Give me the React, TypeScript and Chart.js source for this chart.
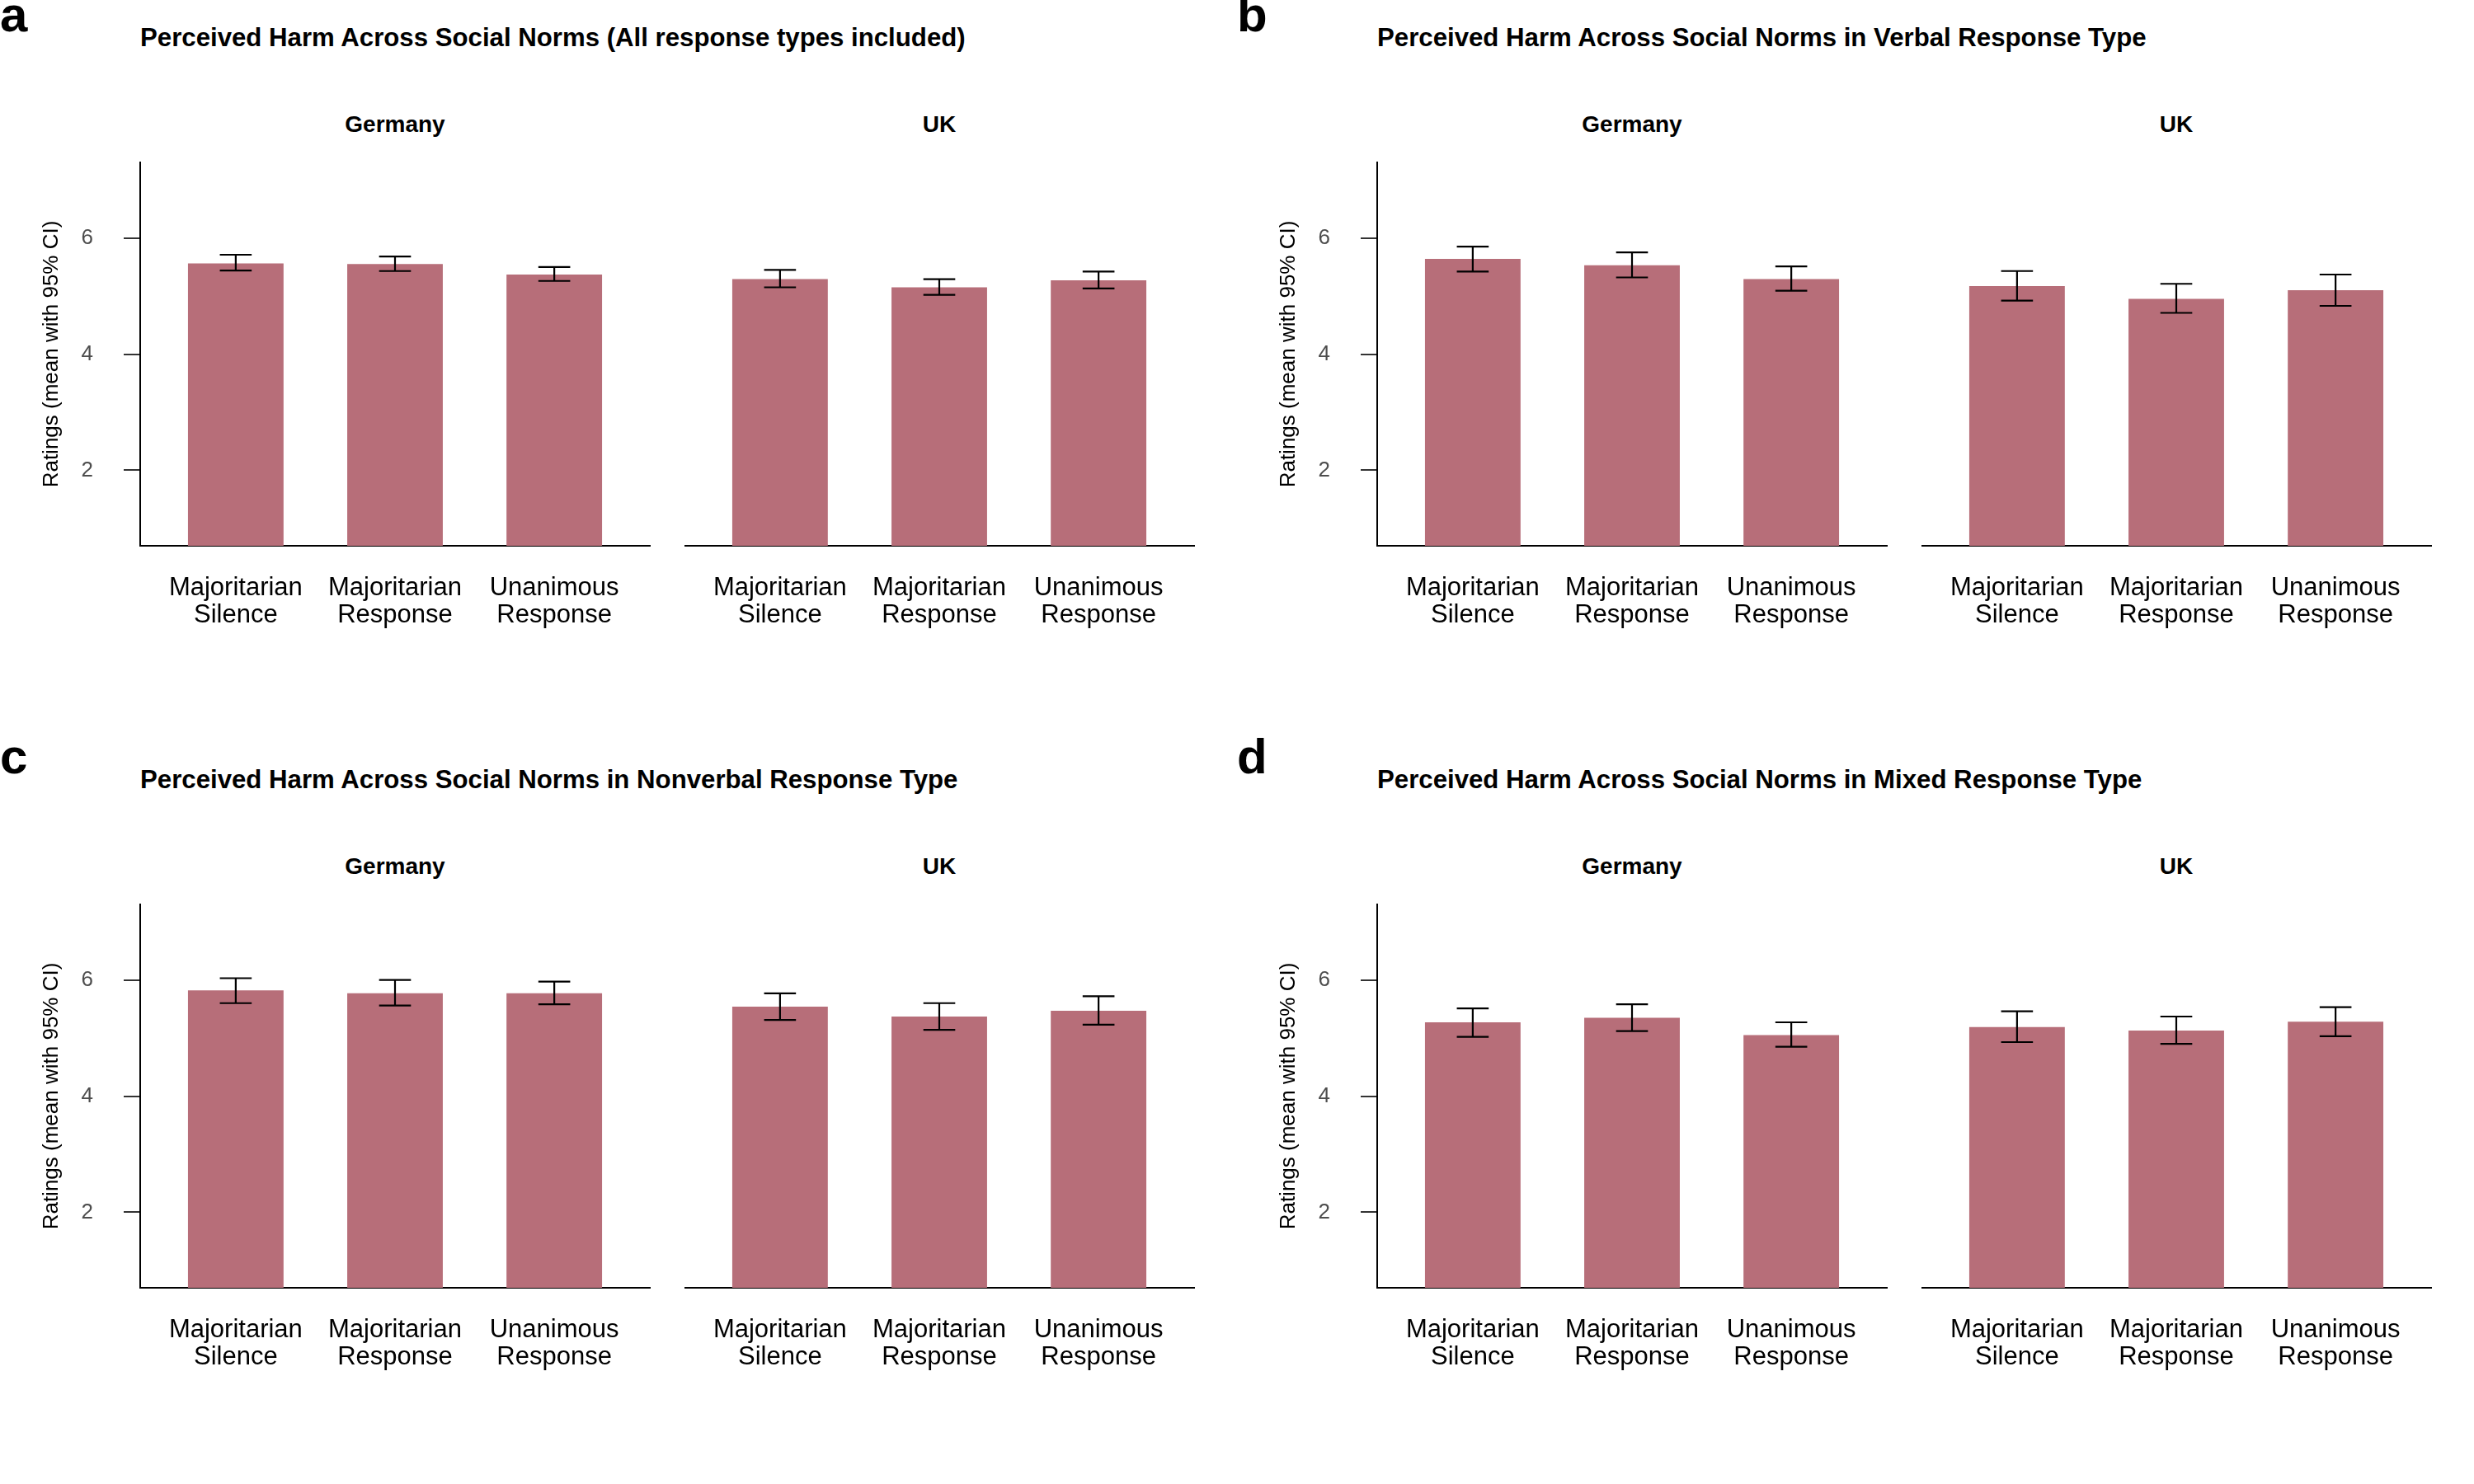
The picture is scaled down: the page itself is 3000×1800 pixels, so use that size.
import React, { useEffect, useRef } from "react";
import { Chart, registerables } from "chart.js";

Chart.register(...registerables);

// ---------- data ----------
const CATEGORY_LABELS: string[][] = [
  ["Majoritarian", "Silence"],
  ["Majoritarian", "Response"],
  ["Unanimous", "Response"],
];
const CATEGORY_POSITIONS = [1, 2, 3];
const COUNTRIES = ["Germany", "UK"];
const Y_TICKS = [2, 4, 6];
const Y_MIN = 0.7;
const Y_MAX = 7.3;
const X_MIN = 0.4;
const X_MAX = 3.6;
const Y_TITLE = "Ratings (mean with 95% CI)";

const PANEL_LETTERS = ["a", "b", "c", "d"];
const PANEL_TITLES = [
  "Perceived Harm Across Social Norms (All response types included)",
  "Perceived Harm Across Social Norms in Verbal Response Type",
  "Perceived Harm Across Social Norms in Nonverbal Response Type",
  "Perceived Harm Across Social Norms in Mixed Response Type",
];

// panel a: all response types
const A_DE_MEAN = [5.56, 5.55, 5.37];
const A_DE_LO = [5.44, 5.43, 5.26];
const A_DE_HI = [5.71, 5.68, 5.5];
const A_UK_MEAN = [5.29, 5.15, 5.27];
const A_UK_LO = [5.15, 5.02, 5.13];
const A_UK_HI = [5.45, 5.29, 5.42];

// panel b: verbal
const B_DE_MEAN = [5.64, 5.53, 5.29];
const B_DE_LO = [5.42, 5.32, 5.09];
const B_DE_HI = [5.85, 5.75, 5.51];
const B_UK_MEAN = [5.17, 4.95, 5.1];
const B_UK_LO = [4.92, 4.71, 4.83];
const B_UK_HI = [5.43, 5.21, 5.37];

// panel c: nonverbal
const C_DE_MEAN = [5.82, 5.77, 5.77];
const C_DE_LO = [5.6, 5.56, 5.58];
const C_DE_HI = [6.03, 6.0, 5.97];
const C_UK_MEAN = [5.54, 5.37, 5.47];
const C_UK_LO = [5.31, 5.14, 5.23];
const C_UK_HI = [5.77, 5.6, 5.72];

// panel d: mixed
const D_DE_MEAN = [5.27, 5.35, 5.05];
const D_DE_LO = [5.02, 5.12, 4.85];
const D_DE_HI = [5.51, 5.58, 5.27];
const D_UK_MEAN = [5.19, 5.13, 5.28];
const D_UK_LO = [4.93, 4.9, 5.03];
const D_UK_HI = [5.46, 5.37, 5.53];

type Facet = { mean: number[]; lo: number[]; hi: number[] };

const PANEL_FACETS: Facet[][] = [
  [
    { mean: A_DE_MEAN, lo: A_DE_LO, hi: A_DE_HI },
    { mean: A_UK_MEAN, lo: A_UK_LO, hi: A_UK_HI },
  ],
  [
    { mean: B_DE_MEAN, lo: B_DE_LO, hi: B_DE_HI },
    { mean: B_UK_MEAN, lo: B_UK_LO, hi: B_UK_HI },
  ],
  [
    { mean: C_DE_MEAN, lo: C_DE_LO, hi: C_DE_HI },
    { mean: C_UK_MEAN, lo: C_UK_LO, hi: C_UK_HI },
  ],
  [
    { mean: D_DE_MEAN, lo: D_DE_LO, hi: D_DE_HI },
    { mean: D_UK_MEAN, lo: D_UK_LO, hi: D_UK_HI },
  ],
];

// ---------- style ----------
const FONT = "'Liberation Sans', Arial, Helvetica, sans-serif";
const BAR_COLOR = "#B76E79";
const CAP_WIDTH = 0.2;

// layout (px within a 1500x900 panel)
const PANEL_W = 1500;
const PANEL_H = 900;
const AREA_TOP = 197;
const AREA_BOTTOM = 662;
const FACET_LEFTS = [170, 830];
const FACET_W = 618;
const CANVAS_TOP = 170;
const CANVAS_H = 710;
const RIGHT_PAD = 12;

Chart.defaults.font.family = FONT;

function FacetChart(props: {
  facet: Facet;
  showY: boolean;
  left: number;
  top: number;
  width: number;
  yAxisWidth: number;
}) {
  const ref = useRef<HTMLCanvasElement | null>(null);
  const { facet, showY, left, top, width, yAxisWidth } = props;

  useEffect(() => {
    if (!ref.current) return;
    const errorBars = {
      id: "errorbars",
      afterDatasetsDraw(chart: any) {
        const { ctx } = chart;
        const xs = chart.scales.x;
        const ys = chart.scales.y;
        ctx.save();
        ctx.strokeStyle = "#000";
        ctx.lineWidth = 2.2;
        CATEGORY_POSITIONS.forEach((p, i) => {
          const px = xs.getPixelForValue(p);
          const half = Math.abs(xs.getPixelForValue(p + CAP_WIDTH / 2) - px);
          const yl = ys.getPixelForValue(facet.lo[i]);
          const yh = ys.getPixelForValue(facet.hi[i]);
          ctx.beginPath();
          ctx.moveTo(px, yl);
          ctx.lineTo(px, yh);
          ctx.moveTo(px - half, yh);
          ctx.lineTo(px + half, yh);
          ctx.moveTo(px - half, yl);
          ctx.lineTo(px + half, yl);
          ctx.stroke();
        });
        ctx.restore();
      },
    };

    const chart = new Chart(ref.current, {
      type: "bar",
      data: {
        datasets: [
          {
            data: CATEGORY_POSITIONS.map((x, i) => ({ x, y: facet.mean[i] })),
            backgroundColor: BAR_COLOR,
            borderWidth: 0,
            barPercentage: 0.6,
            categoryPercentage: 1,
            clip: 0,
          } as any,
        ],
      },
      options: {
        responsive: false,
        animation: false,
        devicePixelRatio: 1,
        layout: {
          padding: { top: AREA_TOP - CANVAS_TOP, right: RIGHT_PAD, left: 0, bottom: 0 },
        },
        plugins: {
          legend: { display: false },
          tooltip: { enabled: false },
          title: { display: false },
        },
        scales: {
          x: {
            type: "linear",
            min: X_MIN,
            max: X_MAX,
            offset: false,
            afterBuildTicks: (s: any) => {
              s.ticks = CATEGORY_POSITIONS.map((v) => ({ value: v }));
            },
            afterFit: (s: any) => {
              s.height = CANVAS_TOP + CANVAS_H - AREA_BOTTOM;
              s.paddingLeft = 0;
              s.paddingRight = 0;
            },
            ticks: {
              autoSkip: false,
              maxRotation: 0,
              minRotation: 0,
              padding: 35,
              color: "#000",
              font: { family: FONT, size: 31, lineHeight: 1.07 },
              callback: (v: any) => {
                const i = CATEGORY_POSITIONS.indexOf(Number(v));
                return i >= 0 ? CATEGORY_LABELS[i] : "";
              },
            },
            grid: { display: false, drawTicks: false },
            border: { display: true, color: "#000", width: 2 },
          },
          y: {
            type: "linear",
            display: showY,
            min: Y_MIN,
            max: Y_MAX,
            afterBuildTicks: (s: any) => {
              s.ticks = Y_TICKS.map((v) => ({ value: v }));
            },
            afterFit: (s: any) => {
              s.width = yAxisWidth;
              s.paddingTop = 0;
              s.paddingBottom = 0;
            },
            ticks: {
              padding: 37,
              color: "#4D4D4D",
              font: { family: FONT, size: 26 },
            },
            grid: {
              drawOnChartArea: false,
              drawTicks: true,
              tickLength: 20,
              color: "#333333",
              lineWidth: 2,
            },
            border: { display: true, color: "#000", width: 2 },
            title: {
              display: true,
              text: Y_TITLE,
              color: "#000",
              font: { family: FONT, size: 26, lineHeight: 1.2 },
              padding: { top: 47, bottom: 0 },
            },
          },
        },
      } as any,
      plugins: [errorBars],
    });
    return () => chart.destroy();
  }, [facet, showY, yAxisWidth]);

  return (
    <canvas
      ref={ref}
      width={width}
      height={CANVAS_H}
      style={{ position: "absolute", left, top, width, height: CANVAS_H }}
    />
  );
}

export default function App() {
  return (
    <div
      style={{
        position: "absolute",
        left: 0,
        top: 0,
        width: 3000,
        height: 1800,
        background: "#fff",
        fontFamily: FONT,
        color: "#000",
        overflow: "hidden",
      }}
    >
      {PANEL_FACETS.map((facets, pi) => {
        const ox = (pi % 2) * PANEL_W;
        const oy = Math.floor(pi / 2) * PANEL_H;
        return (
          <React.Fragment key={pi}>
            <div
              style={{
                position: "absolute",
                left: ox,
                top: oy - 12,
                fontSize: 60,
                lineHeight: "60px",
                fontWeight: "bold",
              }}
            >
              {PANEL_LETTERS[pi]}
            </div>
            <div
              style={{
                position: "absolute",
                left: ox + 170,
                top: oy + 30,
                fontSize: 31.2,
                lineHeight: "31px",
                fontWeight: "bold",
                whiteSpace: "nowrap",
              }}
            >
              {PANEL_TITLES[pi]}
            </div>
            {facets.map((f, fi) => {
              const facetLeft = FACET_LEFTS[fi];
              const canvasLeft = fi === 0 ? 0 : facetLeft;
              const canvasW = facetLeft + FACET_W + RIGHT_PAD - canvasLeft;
              return (
                <React.Fragment key={fi}>
                  <div
                    style={{
                      position: "absolute",
                      left: ox + facetLeft,
                      top: oy + 137,
                      width: FACET_W,
                      textAlign: "center",
                      fontSize: 28,
                      lineHeight: "28px",
                      fontWeight: "bold",
                      whiteSpace: "nowrap",
                    }}
                  >
                    {COUNTRIES[fi]}
                  </div>
                  <FacetChart
                    facet={f}
                    showY={fi === 0}
                    left={ox + canvasLeft}
                    top={oy + CANVAS_TOP}
                    width={canvasW}
                    yAxisWidth={facetLeft - canvasLeft}
                  />
                </React.Fragment>
              );
            })}
          </React.Fragment>
        );
      })}
    </div>
  );
}
